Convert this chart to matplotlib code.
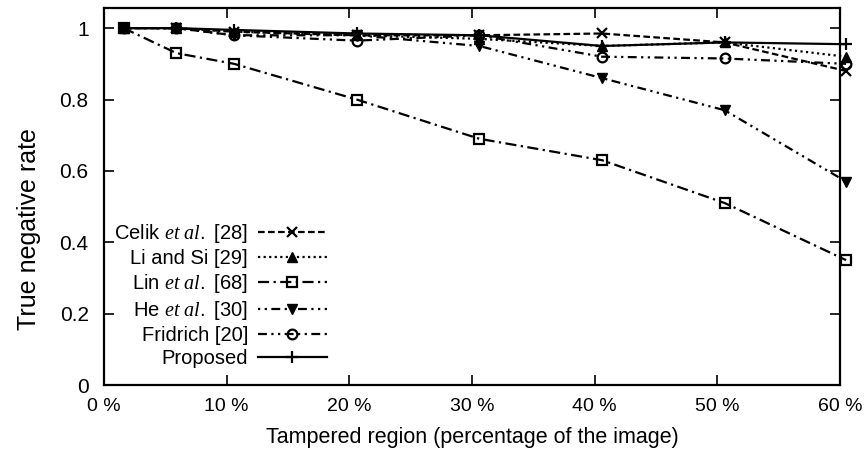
import matplotlib
matplotlib.use("Agg")
import matplotlib.pyplot as plt

plt.rcParams['font.family'] = ['Liberation Sans', 'DejaVu Sans']
plt.rcParams['mathtext.fontset'] = 'custom'
plt.rcParams['mathtext.it'] = 'Liberation Serif:italic'
plt.rcParams['mathtext.rm'] = 'Liberation Sans'

x = [1.6, 5.9, 10.6, 20.6, 30.6, 40.6, 50.6, 60.5]
celik = [1.0, 1.0, 0.99, 0.98, 0.98, 0.985, 0.96, 0.88]
lisi = [1.0, 1.0, 0.99, 0.98, 0.97, 0.95, 0.96, 0.92]
lin = [1.0, 0.93, 0.90, 0.80, 0.69, 0.63, 0.51, 0.35]
he = [1.0, 1.0, 0.98, 0.98, 0.95, 0.86, 0.77, 0.57]
fridrich = [1.0, 1.0, 0.98, 0.965, 0.98, 0.92, 0.915, 0.90]
proposed = [1.0, 1.0, 0.995, 0.985, 0.98, 0.95, 0.96, 0.955]

labels = [r"Celik $\it{et\ al.}$ [28]", "Li and Si [29]", r"Lin $\it{et\ al.}$ [68]",
          r"He $\it{et\ al.}$ [30]", "Fridrich [20]", "Proposed"]
xticks = [0, 10, 20, 30, 40, 50, 60]
xticklabels = ["0 %", "10 %", "20 %", "30 %", "40 %", "50 %", "60 %"]
yticks = [0, 0.2, 0.4, 0.6, 0.8, 1.0]
yticklabels = ["0", "0.2", "0.4", "0.6", "0.8", "1"]

fig = plt.figure(figsize=(8.64, 4.53), dpi=100)
ax = fig.add_axes([0.1204, 0.150, 0.8518, 0.832])

k = dict(color='black', lw=1.6, clip_on=False)
ax.plot(x, celik, linestyle=(0, (3, 1.5)), marker='x', ms=7, mew=1.6, label=labels[0], **k)
ax.plot(x, lisi, linestyle=(0, (1, 1.5)), marker='^', ms=7, label=labels[1], **k)
ax.plot(x, lin, linestyle=(0, (5, 2, 1, 2)), marker='s', ms=7, mfc='none', mew=1.6, label=labels[2], **k)
ax.plot(x, he, linestyle=(0, (1, 2, 1, 2, 4, 2)), marker='v', ms=7, label=labels[3], **k)
ax.plot(x, fridrich, linestyle=(0, (4, 2, 1, 2, 1, 2)), marker='o', ms=7, mfc='none', mew=1.6, label=labels[4], **k)
ax.plot(x, proposed, linestyle='-', marker='+', ms=8, mew=1.6, label=labels[5], **k)

ax.set_xlim(0, 60)
ax.set_ylim(0, 1.056)
ax.set_xticks(xticks)
ax.set_xticklabels(xticklabels)
ax.set_yticks(yticks)
ax.set_yticklabels(yticklabels)
ax.tick_params(direction='in', length=7, width=1.2, top=True, right=True)
ax.tick_params(axis='x', labelsize=14, pad=9)
ax.tick_params(axis='y', labelsize=15, pad=11)
for s in ax.spines.values():
    s.set_linewidth(1.6)

ax.set_xlabel("Tampered region (percentage of the image)", fontsize=15.5, labelpad=9)
ax.set_ylabel("True negative rate", fontsize=18, labelpad=14)
ax.yaxis.set_label_coords(-0.085, 0.414)

leg = ax.legend(loc='lower left', bbox_to_anchor=(0.014, 0.045), frameon=False,
                markerfirst=False, handlelength=3.4, fontsize=14.5, labelspacing=0.2,
                borderpad=0, borderaxespad=0, handletextpad=0.5)

fig.savefig("out.png", dpi=100)
